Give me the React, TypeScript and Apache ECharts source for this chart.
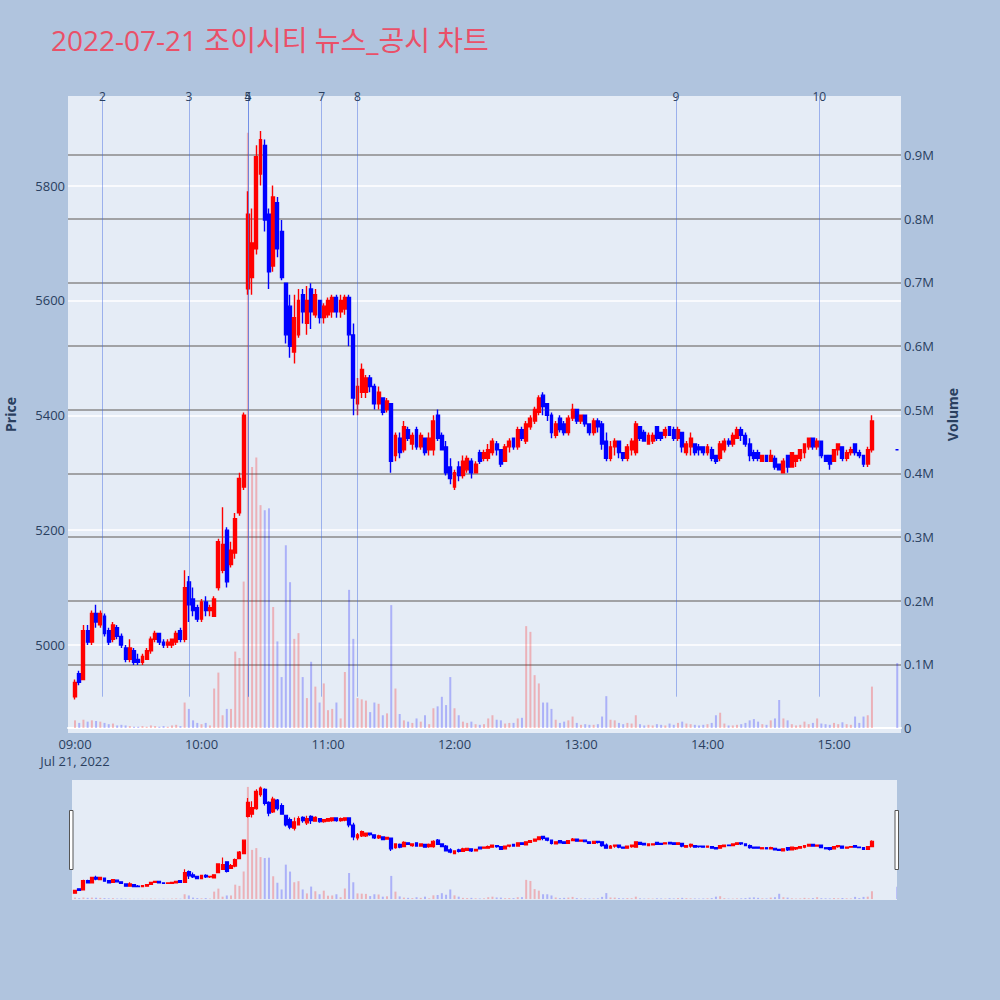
import React, { useEffect, useRef } from "react";
import * as echarts from "echarts";

const TITLE = "2022-07-21 조이시티 뉴스_공시 차트";
const DATE_LABEL = "Jul 21, 2022";

// 2-minute candles (start time of each bucket), plus the 15:30 closing auction
const times = [
  "09:00","09:02","09:04","09:06","09:08","09:10","09:12","09:14","09:16","09:18",
  "09:20","09:22","09:24","09:26","09:28","09:30","09:32","09:34","09:36","09:38",
  "09:40","09:42","09:44","09:46","09:48","09:50","09:52","09:54","09:56","09:58",
  "10:00","10:02","10:04","10:06","10:08","10:10","10:12","10:14","10:16","10:18",
  "10:20","10:22","10:24","10:26","10:28","10:30","10:32","10:34","10:36","10:38",
  "10:40","10:42","10:44","10:46","10:48","10:50","10:52","10:54","10:56","10:58",
  "11:00","11:02","11:04","11:06","11:08","11:10","11:12","11:14","11:16","11:18",
  "11:20","11:22","11:24","11:26","11:28","11:30","11:32","11:34","11:36","11:38",
  "11:40","11:42","11:44","11:46","11:48","11:50","11:52","11:54","11:56","11:58",
  "12:00","12:02","12:04","12:06","12:08","12:10","12:12","12:14","12:16","12:18",
  "12:20","12:22","12:24","12:26","12:28","12:30","12:32","12:34","12:36","12:38",
  "12:40","12:42","12:44","12:46","12:48","12:50","12:52","12:54","12:56","12:58",
  "13:00","13:02","13:04","13:06","13:08","13:10","13:12","13:14","13:16","13:18",
  "13:20","13:22","13:24","13:26","13:28","13:30","13:32","13:34","13:36","13:38",
  "13:40","13:42","13:44","13:46","13:48","13:50","13:52","13:54","13:56","13:58",
  "14:00","14:02","14:04","14:06","14:08","14:10","14:12","14:14","14:16","14:18",
  "14:20","14:22","14:24","14:26","14:28","14:30","14:32","14:34","14:36","14:38",
  "14:40","14:42","14:44","14:46","14:48","14:50","14:52","14:54","14:56","14:58",
  "15:00","15:02","15:04","15:06","15:08","15:10","15:12","15:14","15:16","15:18",
  "15:30",
];

const opens = [
  4910,4950,4940,5025,5005,5055,5035,5050,5025,5010,
  5030,5015,4995,4975,4990,4975,4970,4975,4990,5010,
  5020,5005,5000,5000,5005,5025,5010,5110,5080,5065,
  5045,5075,5060,5050,5100,5130,5200,5140,5160,5230,
  5275,5620,5640,5690,5820,5870,5750,5660,5770,5720,
  5630,5590,5510,5540,5610,5560,5620,5575,5600,5570,
  5575,5580,5605,5580,5585,5605,5540,5420,5440,5440,
  5465,5450,5420,5430,5410,5420,5330,5360,5340,5375,
  5350,5375,5345,5360,5340,5340,5400,5365,5345,5310,
  5275,5310,5295,5305,5320,5300,5335,5325,5325,5335,
  5350,5340,5320,5345,5360,5345,5375,5355,5380,5390,
  5405,5435,5420,5400,5365,5395,5385,5370,5395,5410,
  5390,5400,5385,5370,5390,5385,5355,5325,5345,5355,
  5335,5325,5340,5335,5380,5370,5350,5355,5380,5370,
  5365,5380,5375,5360,5370,5335,5345,5350,5345,5345,
  5335,5340,5330,5325,5340,5355,5350,5360,5375,5365,
  5350,5335,5335,5320,5330,5320,5325,5315,5300,5330,
  5310,5320,5325,5335,5345,5360,5345,5355,5330,5330,
  5320,5340,5345,5325,5335,5350,5335,5330,5315,5340,
  5340,
];

const closes = [
  4935,4935,5025,5005,5055,5040,5055,5020,5005,5035,
  5015,5000,4975,4995,4970,4970,4980,4990,5010,5020,
  5005,5000,5005,5010,5020,5010,5100,5070,5060,5045,
  5075,5060,5065,5080,5180,5175,5110,5165,5220,5290,
  5400,5750,5700,5850,5880,5740,5650,5780,5690,5640,
  5540,5520,5570,5600,5580,5600,5580,5610,5570,5590,
  5600,5605,5580,5600,5605,5540,5430,5450,5480,5465,
  5450,5420,5440,5405,5425,5320,5365,5335,5380,5360,
  5365,5345,5365,5335,5360,5390,5360,5340,5300,5290,
  5300,5295,5320,5325,5300,5315,5320,5335,5340,5355,
  5340,5315,5345,5355,5345,5375,5360,5385,5395,5410,
  5430,5415,5400,5370,5385,5375,5370,5395,5410,5390,
  5400,5385,5370,5390,5380,5350,5325,5345,5355,5335,
  5325,5345,5355,5385,5360,5355,5365,5365,5360,5360,
  5375,5365,5360,5375,5345,5350,5360,5335,5340,5335,
  5345,5325,5320,5350,5355,5350,5365,5375,5365,5350,
  5330,5325,5325,5330,5320,5330,5310,5305,5320,5310,
  5335,5330,5340,5350,5360,5345,5355,5330,5320,5315,
  5340,5350,5325,5335,5340,5335,5330,5315,5340,5390,
  5340,
];

const lows = [
  4905,4930,4940,5000,5000,5030,5030,5015,5000,5005,
  5010,4995,4970,4970,4965,4965,4965,4975,4985,5005,
  5000,4995,4995,4995,5000,5005,5005,5040,5050,5040,
  5040,5050,5050,5050,5095,5125,5100,5135,5150,5225,
  5270,5610,5610,5680,5800,5720,5620,5650,5675,5635,
  5525,5500,5490,5535,5560,5540,5550,5570,5560,5560,
  5570,5570,5570,5570,5575,5520,5400,5400,5430,5430,
  5440,5410,5410,5400,5405,5300,5320,5325,5335,5355,
  5340,5340,5340,5330,5330,5330,5355,5340,5295,5280,
  5270,5285,5290,5300,5290,5300,5315,5320,5320,5330,
  5330,5310,5320,5335,5340,5340,5355,5350,5375,5385,
  5400,5400,5390,5360,5360,5370,5365,5365,5390,5385,
  5385,5380,5365,5365,5370,5340,5320,5320,5330,5325,
  5320,5320,5330,5330,5355,5355,5350,5350,5355,5355,
  5360,5365,5355,5355,5335,5330,5330,5330,5330,5330,
  5330,5320,5315,5320,5335,5345,5345,5360,5355,5345,
  5320,5320,5320,5320,5320,5320,5305,5305,5300,5300,
  5310,5310,5320,5325,5340,5340,5340,5325,5320,5305,
  5320,5330,5320,5320,5330,5330,5325,5310,5310,5335,
  5340,
];

const highs = [
  4940,4955,5035,5035,5060,5070,5060,5055,5030,5040,
  5035,5020,5000,5010,4995,4985,4985,4995,5015,5025,
  5020,5010,5010,5010,5025,5030,5130,5120,5100,5070,
  5080,5085,5070,5085,5185,5240,5205,5180,5230,5300,
  5405,5790,5760,5870,5895,5880,5760,5800,5780,5740,
  5630,5610,5610,5620,5620,5625,5630,5620,5600,5595,
  5605,5610,5610,5610,5610,5610,5560,5465,5490,5470,
  5470,5455,5450,5430,5430,5420,5370,5370,5390,5380,
  5370,5380,5370,5360,5370,5400,5410,5370,5355,5325,
  5305,5320,5330,5330,5325,5320,5340,5340,5350,5360,
  5355,5340,5350,5360,5360,5380,5380,5390,5400,5415,
  5435,5440,5420,5405,5390,5400,5390,5400,5420,5410,
  5400,5400,5385,5395,5395,5390,5370,5355,5360,5355,
  5335,5350,5360,5390,5380,5375,5370,5370,5380,5370,
  5380,5380,5380,5380,5370,5355,5370,5350,5350,5345,
  5350,5345,5330,5355,5360,5360,5370,5380,5380,5370,
  5360,5340,5340,5330,5330,5340,5330,5315,5325,5330,
  5335,5330,5340,5350,5360,5360,5360,5355,5330,5330,
  5340,5350,5345,5340,5345,5350,5340,5330,5345,5400,
  5340,
];

const volumes = [
  12000,8000,13000,10000,12000,11000,10000,8000,6000,7000,
  4000,5000,4000,3000,2000,2000,3000,2000,4000,3000,
  2000,3000,2000,4000,5000,3000,40000,30000,12000,8000,
  6000,8000,4000,62000,87000,20000,30000,30000,120000,110000,
  230000,935000,410000,425000,350000,342000,345000,190000,136000,80000,
  287000,229000,140000,149000,80000,47000,104000,65000,40000,70000,
  28000,30000,40000,15000,88000,217000,140000,47000,45000,43000,
  25000,40000,38000,20000,23000,193000,62000,22000,12000,10000,
  8000,15000,10000,20000,6000,31000,34000,49000,36000,80000,
  31000,20000,10000,8000,10000,6000,5000,6000,15000,20000,
  13000,12000,7000,8000,8000,15000,16000,160000,151000,83000,
  70000,40000,40000,30000,13000,8000,10000,12000,18000,8000,
  5000,6000,5000,5000,6000,18000,50000,13000,12000,8000,
  6000,8000,7000,20000,6000,4000,5000,4000,6000,5000,
  4000,7000,5000,8000,10000,7000,6000,5000,4000,5000,
  6000,8000,20000,24000,7000,4000,4000,5000,6000,8000,
  12000,14000,10000,6000,5000,12000,15000,44000,15000,12000,
  6000,4000,5000,10000,6000,8000,15000,7000,6000,5000,
  8000,6000,9000,6000,5000,18000,8000,18000,20000,65000,
  102000,
];

const priceTicks = [5000, 5200, 5400, 5600, 5800];
const volumeLabelTicks = [0, 100000, 200000, 300000, 400000, 500000, 600000, 700000, 800000, 900000];
const volumeGridTicks = [100000, 200000, 300000, 400000, 500000, 600000, 700000, 800000, 900000];
const timeTicks = ["09:00", "10:00", "11:00", "12:00", "13:00", "14:00", "15:00"];

const eventLabels = ["2", "3", "4", "5", "7", "8", "9", "10"];
const eventTimes = ["09:13", "09:54", "10:22", "10:22", "10:57", "11:14", "13:45", "14:53"];

const RED = "#ff0000";
const BLUE = "#0000ff";
const FONT = '"Open Sans", "Noto Sans CJK KR", sans-serif';
const AXIS_TEXT = "#2a3f5f";
const TICK_SIZE = 13;

const PRICE_MIN = 4846.8;
const PRICE_MAX = 5955.9;
const VOL_MIN = -7853;
const VOL_MAX = 992620;
const X_MIN = -3.32;
const X_MAX = 391.78;
const X_MIN_MINI = -1.42;
const X_MAX_MINI = 389.88;
const EVENT_LINE_BOTTOM = 4910;

const toMin = (s: string) => {
  const [h, m] = s.split(":").map(Number);
  return (h - 9) * 60 + m;
};

const fmtTime = (v: number) => {
  const h = 9 + Math.floor(v / 60);
  const m = Math.round(v % 60);
  const s = `${String(h).padStart(2, "0")}:${String(m).padStart(2, "0")}`;
  return v === 0 ? `${s}\n${DATE_LABEL}` : s;
};

const volumeRenderer = (barW: number) => (params: any, api: any) => {
  const x = api.value(0);
  const v = api.value(1);
  const up = api.value(2);
  const top = api.coord([x, v]);
  const base = api.coord([x, 0]);
  return {
    type: "rect",
    shape: { x: top[0] - barW / 2, y: top[1], width: barW, height: base[1] - top[1] },
    style: { fill: up ? "rgba(255,0,0,0.25)" : "rgba(0,0,255,0.25)" },
  };
};

export default function App() {
  const ref = useRef<HTMLDivElement>(null);

  useEffect(() => {
    if (!ref.current) return;
    const chart = echarts.init(ref.current, null, { renderer: "svg" });

    const candleData = times.map((t, i) => [toMin(t), opens[i], closes[i], lows[i], highs[i]]);
    const volData = times.map((t, i) => [toMin(t), volumes[i], closes[i] > opens[i] ? 1 : 0]);

    const candleStyle = (bw: number) => ({
      color: RED,
      color0: BLUE,
      borderColor: RED,
      borderColor0: BLUE,
      borderColorDoji: BLUE,
      borderWidth: bw,
    });

    const tickMins = timeTicks.map(toMin);

    const option: any = {
      animation: false,
      backgroundColor: "#b0c4de",
      textStyle: { fontFamily: FONT },
      title: {
        text: TITLE,
        left: 46,
        top: 21,
        textStyle: { color: "#ea5068", fontSize: 28, fontWeight: "normal", fontFamily: FONT },
      },
      grid: [
        {
          left: 68, top: 96, width: 833, height: 637, show: true,
          backgroundColor: "#e5ecf6", borderWidth: 0, containLabel: false, outerBoundsMode: "none",
        },
        {
          left: 72, top: 780, width: 825, height: 120, show: true,
          backgroundColor: "#e5ecf6", borderWidth: 0, containLabel: false, outerBoundsMode: "none",
        },
      ],
      xAxis: [
        {
          type: "value",
          gridIndex: 0,
          min: X_MIN,
          max: X_MAX,
          axisLine: { show: true, onZero: true, onZeroAxisIndex: 1, lineStyle: { color: "#ffffff", width: 2 } },
          axisTick: { show: false, customValues: tickMins },
          axisLabel: {
            customValues: tickMins,
            formatter: fmtTime,
            color: AXIS_TEXT,
            fontSize: TICK_SIZE,
            lineHeight: 17,
            margin: 2,
            fontFamily: FONT,
          },
          splitLine: { show: false },
        },
        {
          type: "value",
          gridIndex: 1,
          min: X_MIN_MINI,
          max: X_MAX_MINI,
          show: false,
          splitLine: { show: false },
        },
      ],
      yAxis: [
        {
          type: "value",
          gridIndex: 0,
          position: "left",
          min: PRICE_MIN,
          max: PRICE_MAX,
          name: "Price",
          nameLocation: "middle",
          nameRotate: 90,
          nameGap: 51,
          nameTextStyle: { color: AXIS_TEXT, fontSize: 14, fontWeight: "bold", fontFamily: FONT },
          axisLine: { show: false },
          axisTick: { show: false, customValues: priceTicks },
          axisLabel: {
            customValues: priceTicks,
            formatter: (v: number) => String(v),
            color: AXIS_TEXT,
            fontSize: TICK_SIZE,
            margin: 3,
            fontFamily: FONT,
          },
          splitLine: { show: true, lineStyle: { color: "#ffffff", width: 1.5 } },
        },
        {
          type: "value",
          gridIndex: 0,
          position: "right",
          min: VOL_MIN,
          max: VOL_MAX,
          name: "Volume",
          nameLocation: "middle",
          nameRotate: 90,
          nameGap: 44,
          nameTextStyle: { color: AXIS_TEXT, fontSize: 14, fontWeight: "bold", fontFamily: FONT },
          axisLine: { show: false },
          axisTick: { show: false, customValues: volumeGridTicks },
          axisLabel: {
            customValues: volumeLabelTicks,
            formatter: (v: number) => (v === 0 ? "0" : (v / 1e6).toFixed(1) + "M"),
            color: AXIS_TEXT,
            fontSize: TICK_SIZE,
            margin: 3,
            fontFamily: FONT,
          },
          splitLine: { show: true, lineStyle: { color: "#8a8a8a", width: 1.5 } },
        },
        { type: "value", gridIndex: 1, min: PRICE_MIN, max: PRICE_MAX, show: false, splitLine: { show: false } },
        { type: "value", gridIndex: 1, min: VOL_MIN, max: VOL_MAX, show: false, splitLine: { show: false } },
      ],
      graphic: [
        {
          type: "rect",
          shape: { x: 69.5, y: 810.5, width: 3.5, height: 59 },
          style: { fill: "#ffffff", stroke: "#555555", lineWidth: 1 },
          z: 100,
        },
        {
          type: "rect",
          shape: { x: 895, y: 810.5, width: 3.5, height: 59 },
          style: { fill: "#ffffff", stroke: "#555555", lineWidth: 1 },
          z: 100,
        },
      ],
      series: [
        {
          type: "custom",
          name: "Volume",
          xAxisIndex: 0,
          yAxisIndex: 1,
          data: volData,
          encode: { x: 0, y: 1 },
          renderItem: volumeRenderer(2),
          clip: true,
          z: 1,
          silent: true,
        },
        {
          type: "candlestick",
          name: "Price",
          xAxisIndex: 0,
          yAxisIndex: 0,
          data: candleData,
          dimensions: ["t", "open", "close", "lowest", "highest"],
          encode: { x: 0, y: [1, 2, 3, 4] },
          barWidth: 3.4,
          itemStyle: candleStyle(1.4),
          z: 3,
          silent: true,
          markLine: {
            silent: true,
            symbol: ["none", "none"],
            lineStyle: { color: "rgba(65,105,225,0.45)", width: 1, type: "solid" },
            label: {
              show: true,
              position: "end",
              formatter: "{b}",
              color: AXIS_TEXT,
              fontSize: 12,
              distance: -6,
              fontFamily: FONT,
            },
            emphasis: { disabled: true },
            data: eventTimes.map((t, i) => [
              { name: eventLabels[i], coord: [toMin(t), EVENT_LINE_BOTTOM] },
              { coord: [toMin(t), PRICE_MAX] },
            ]),
          },
        },
        {
          type: "custom",
          xAxisIndex: 1,
          yAxisIndex: 3,
          data: volData,
          encode: { x: 0, y: 1 },
          renderItem: volumeRenderer(2),
          clip: true,
          z: 1,
          silent: true,
        },
        {
          type: "candlestick",
          xAxisIndex: 1,
          yAxisIndex: 2,
          data: candleData,
          dimensions: ["t", "open", "close", "lowest", "highest"],
          encode: { x: 0, y: [1, 2, 3, 4] },
          barWidth: 3.4,
          itemStyle: candleStyle(1.2),
          z: 3,
          silent: true,
        },
      ],
    };

    chart.setOption(option);
    return () => chart.dispose();
  }, []);

  return (
    <div
      ref={ref}
      style={{ position: "fixed", left: 0, top: 0, width: 1000, height: 1000, background: "#b0c4de" }}
    />
  );
}
